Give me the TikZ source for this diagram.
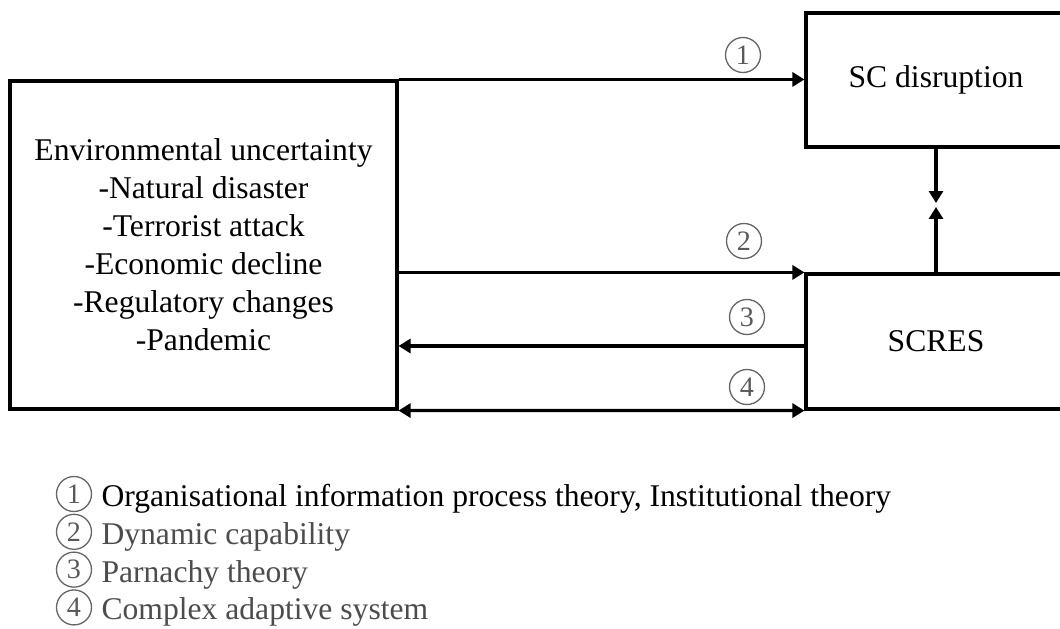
\documentclass[tikz,border=0pt]{standalone}
\usepackage{fontspec}
\setmainfont{Liberation Serif}
\usetikzlibrary{positioning,arrows.meta}
\tikzset{
  blk/.style={rectangle, draw=black, line width=1.8pt, text centered, align=center, font=\fontsize{18}{21.6}\selectfont},
  num/.style={circle, draw=black!60, line width=0.75pt, text=black!65, minimum size=0.7cm, inner sep=0pt, font=\fontsize{16}{16}\selectfont},
  leg/.style={inner sep=0pt, text height=14.2pt, text depth=0pt, font=\fontsize{18}{21.6}\selectfont},
  arr/.style={line width=1.8pt, -{Triangle[length=0.24cm,width=0.28cm]}},
  arrb/.style={line width=1.8pt, {Triangle[length=0.24cm,width=0.28cm]}-{Triangle[length=0.24cm,width=0.28cm]}},
  node distance=7mm
}
\begin{document}
\begin{tikzpicture}[x=0.02cm, y=-0.02cm]
\useasboundingbox (0,0) rectangle (1060,628);
% boxes
\node[blk, minimum width=7.74cm, minimum height=6.56cm] (env) at (203.5,245)
  {Environmental uncertainty\\ -Natural disaster\\ -Terrorist attack\\ -Economic decline\\ -Regulatory changes\\ -Pandemic};
\node[blk, minimum width=5.2cm, minimum height=2.68cm] (disr) at (936,80) {SC disruption};
\node[blk, minimum width=5.2cm, minimum height=2.7cm] (scres) at (936,341.5) {SCRES};
\coordinate (meetdown) at (936,203);
\coordinate (meetup) at (936,207);
% connectors
\draw[arr] (env.north east) -- (env.north east -| disr.west);
\draw[arr] (env.east |- scres.north) -- (scres.north west);
\draw[arr] ([yshift=-0.09cm]scres.west) -- ([yshift=-0.09cm]scres.west -| env.east);
\draw[arrb] (env.south east) -- (scres.south west);
\draw[arr] (disr.south) -- (meetdown);
\draw[arr] (scres.north) -- (meetup);
\node[num] (n1) at (743,55) {1};
\node[num] (n2) at (744,241) {2};
\node[num] (n3) at (747,317) {3};
\node[num] (n4) at (747,387) {4};
% legend
\node[num] (k1) at (74,494) {1};
\node[num, below=0.03cm of k1] (k2) {2};
\node[num, below=0.03cm of k2] (k3) {3};
\node[num, below=0.03cm of k3] (k4) {4};
\node[leg, right=0.18cm of k1] (t1) {Organisational information process theory, Institutional theory};
\node[leg, text=black!70, right=0.18cm of k2] (t2) {Dynamic capability};
\node[leg, text=black!70, right=0.18cm of k3] (t3) {Parnachy theory};
\node[leg, text=black!70, right=0.18cm of k4] (t4) {Complex adaptive system};
\end{tikzpicture}
\end{document}
